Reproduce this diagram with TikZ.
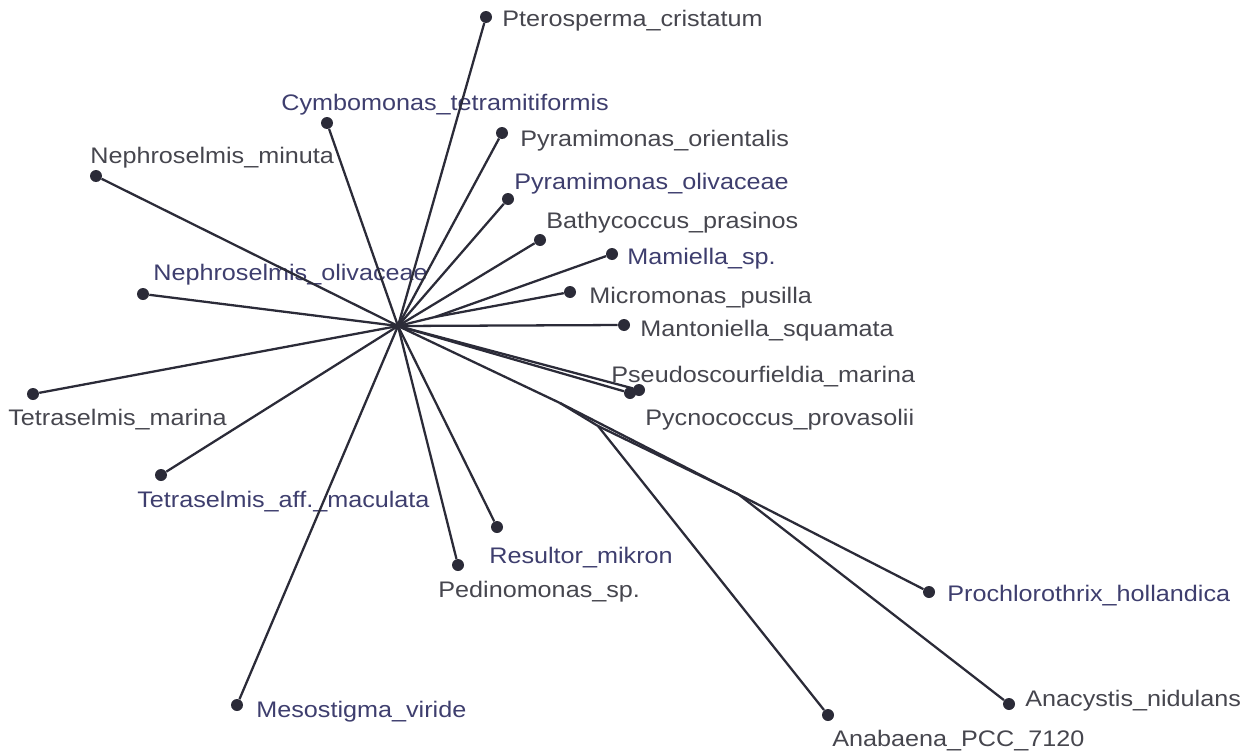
\documentclass[tikz,border=0pt]{standalone}
\usepackage{fontspec}
\setmainfont[FakeStretch=1.12]{Liberation Sans}
\usepackage{tikz}
\definecolor{inkline}{HTML}{2B2B38}
\definecolor{inkgrey}{HTML}{46464E}
\definecolor{inkblue}{HTML}{3E3E6E}

\begin{document}
\begin{tikzpicture}[
  x=0.02cm, y=-0.02cm,
  leaf/.style={circle, fill=inkline, inner sep=0pt, minimum size=0.24cm},
  lbl/.style={anchor=base west, inner sep=0pt, text=inkgrey,
              font=\fontsize{12.8}{15}\selectfont},
  lblb/.style={lbl, text=inkblue},
  br/.style={draw=inkline, line width=1.3pt}
]
  \useasboundingbox (0,0) rectangle (1242,754);

  % inner points of the tree
  \coordinate (c)  at (398,326);
  \coordinate (m)  at (435,317);
  \coordinate (j1) at (560,403);
  \coordinate (j2) at (598,426);
  \coordinate (x)  at (738,494);

  % leaves
  \node[leaf] (pter) at (486,17)   {};
  \node[leaf] (cymb) at (327,123)  {};
  \node[leaf] (pyor) at (502,133)  {};
  \node[leaf] (nemi) at (96,176)   {};
  \node[leaf] (pyol) at (508,199)  {};
  \node[leaf] (bath) at (540,240)  {};
  \node[leaf] (mami) at (612,254)  {};
  \node[leaf] (micr) at (570,292)  {};
  \node[leaf] (neol) at (143,294)  {};
  \node[leaf] (mant) at (624,325)  {};
  \node[leaf] (pseu) at (630,393)  {};
  \node[leaf] (pycn) at (639,390)  {};
  \node[leaf] (tema) at (33,394)   {};
  \node[leaf] (teaf) at (161,475)  {};
  \node[leaf] (resu) at (497,527)  {};
  \node[leaf] (pedi) at (458,565)  {};
  \node[leaf] (proc) at (929,592)  {};
  \node[leaf] (meso) at (237,705)  {};
  \node[leaf] (anac) at (1009,704) {};
  \node[leaf] (anab) at (828,715)  {};

  % labels
  \node[lbl]  (pter-l) at (502,26)   {Pterosperma\_cristatum};
  \node[lblb] (cymb-l) at (281,110)  {Cymbomonas\_tetramitiformis};
  \node[lbl]  (pyor-l) at (520,146)  {Pyramimonas\_orientalis};
  \node[lbl]  (nemi-l) at (90,163)   {Nephroselmis\_minuta};
  \node[lblb] (pyol-l) at (514,189)  {Pyramimonas\_olivaceae};
  \node[lbl]  (bath-l) at (546,228)  {Bathycoccus\_prasinos};
  \node[lblb] (mami-l) at (627,264)  {Mamiella\_sp.};
  \node[lbl]  (micr-l) at (589,303)  {Micromonas\_pusilla};
  \node[lblb] (neol-l) at (153,280)  {Nephroselmis\_olivaceae};
  \node[lbl]  (mant-l) at (640,336)  {Mantoniella\_squamata};
  \node[lbl]  (pseu-l) at (611,382)  {Pseudoscourfieldia\_marina};
  \node[lbl]  (pycn-l) at (645,425)  {Pycnococcus\_provasolii};
  \node[lbl]  (tema-l) at (8,425)    {Tetraselmis\_marina};
  \node[lblb] (teaf-l) at (137,507)  {Tetraselmis\_aff.\_maculata};
  \node[lblb] (resu-l) at (489,563)  {Resultor\_mikron};
  \node[lbl]  (pedi-l) at (438,597)  {Pedinomonas\_sp.};
  \node[lblb] (proc-l) at (947,601)  {Prochlorothrix\_hollandica};
  \node[lblb] (meso-l) at (256,717)  {Mesostigma\_viride};
  \node[lbl]  (anac-l) at (1025,706) {Anacystis\_nidulans};
  \node[lbl]  (anab-l) at (832,746)  {Anabaena\_PCC\_7120};

  % branches
  \foreach \t in {pter,cymb,pyor,nemi,pyol,bath,neol,mant,pseu,pycn,
                  tema,teaf,resu,pedi,meso}
    \draw[br] (c) -- (\t);
  \draw[br] (c) -- (m);
  \draw[br] (m) -- (mami);
  \draw[br] (m) -- (micr);
  \draw[br] (c) -- (j1);
  \draw[br] (j1) -- (proc);
  \draw[br] (j1) -- (j2);
  \draw[br] (j2) -- (anab);
  \draw[br] (j2) -- (x) -- (anac);
\end{tikzpicture}
\end{document}
